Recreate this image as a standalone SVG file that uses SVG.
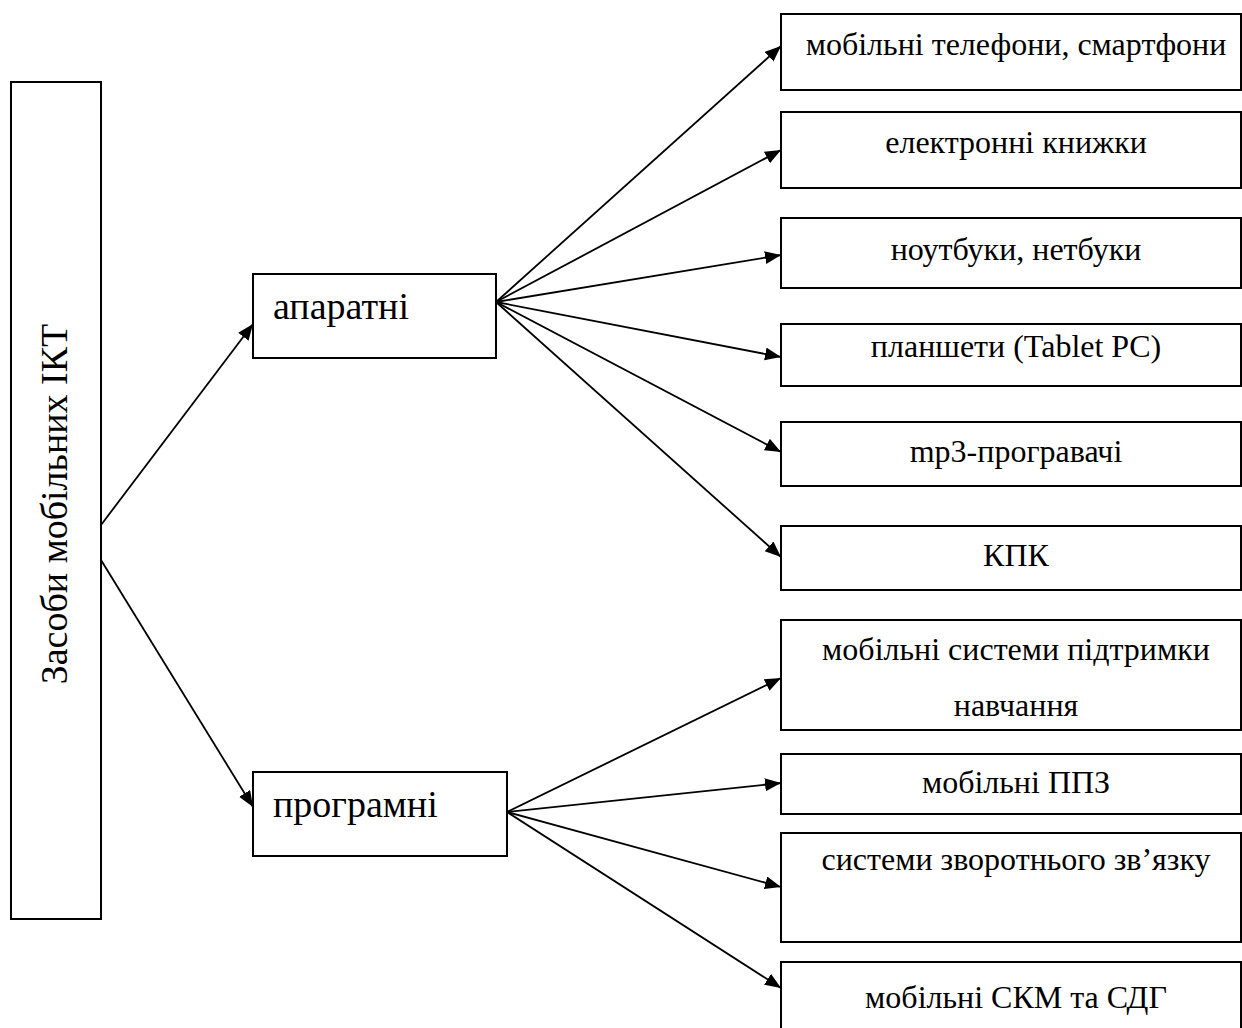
<svg xmlns="http://www.w3.org/2000/svg" width="1242" height="1028" viewBox="0 0 1242 1028">
<style>
.box{fill:#fff;stroke:#000;stroke-width:2}
.t{font-family:"Liberation Serif","Times New Roman",serif;fill:#000}
.r{font-size:32px;text-anchor:middle}
.l{font-size:38px}
.c{stroke:#000;stroke-width:1.8;fill:none;marker-end:url(#ah)}
</style>
<defs>
<marker id="ah" markerUnits="userSpaceOnUse" markerWidth="17" markerHeight="14" refX="16" refY="6.5" orient="auto">
<path d="M0,0 L16,6.5 L0,13 z" fill="#000"/>
</marker>
</defs>
<rect width="1242" height="1028" fill="#fff"/>
<g id="root">
<rect class="box" x="11" y="82" width="90" height="837"/>
<text class="t l" transform="translate(67,504) rotate(-90)" text-anchor="middle">Засоби мобільних ІКТ</text>
</g>
<g id="hw">
<rect class="box" x="253" y="274" width="243" height="84"/>
<text class="t l" x="273" y="319">апаратні</text>
</g>
<g id="sw">
<rect class="box" x="253" y="772" width="254" height="84"/>
<text class="t l" x="273" y="817">програмні</text>
</g>
<g id="n1"><rect class="box" x="781" y="14" width="460" height="76"/><text class="t r" x="1016" y="55">мобільні телефони, смартфони</text></g>
<g id="n2"><rect class="box" x="781" y="112" width="460" height="76"/><text class="t r" x="1016" y="153">електронні книжки</text></g>
<g id="n3"><rect class="box" x="781" y="218" width="460" height="70"/><text class="t r" x="1016" y="260">ноутбуки, нетбуки</text></g>
<g id="n4"><rect class="box" x="781" y="324" width="460" height="62"/><text class="t r" x="1016" y="357">планшети (Tablet PC)</text></g>
<g id="n5"><rect class="box" x="781" y="422" width="460" height="64"/><text class="t r" x="1016" y="462">mp3-програвачі</text></g>
<g id="n6"><rect class="box" x="781" y="526" width="460" height="64"/><text class="t r" x="1016" y="566">КПК</text></g>
<g id="n7"><rect class="box" x="781" y="620" width="460" height="110"/><text class="t r" x="1016" y="660">мобільні системи підтримки</text><text class="t r" x="1016" y="716">навчання</text></g>
<g id="n8"><rect class="box" x="781" y="754" width="460" height="60"/><text class="t r" x="1016" y="793">мобільні ППЗ</text></g>
<g id="n9"><rect class="box" x="781" y="833" width="460" height="109"/><text class="t r" x="1016" y="870">системи зворотнього зв’язку</text></g>
<g id="n10"><rect class="box" x="781" y="962" width="460" height="70"/><text class="t r" x="1016" y="1008">мобільні СКМ та СДГ</text></g>
<g id="connectors">
<line class="c" x1="101" y1="525" x2="253" y2="324"/>
<line class="c" x1="101" y1="560" x2="253" y2="807"/>
<line class="c" x1="496" y1="302" x2="781" y2="46"/>
<line class="c" x1="496" y1="302" x2="781" y2="150"/>
<line class="c" x1="496" y1="302" x2="781" y2="255"/>
<line class="c" x1="496" y1="302" x2="781" y2="357"/>
<line class="c" x1="496" y1="302" x2="781" y2="452"/>
<line class="c" x1="496" y1="302" x2="781" y2="557"/>
<line class="c" x1="507" y1="812" x2="781" y2="678"/>
<line class="c" x1="507" y1="812" x2="781" y2="783"/>
<line class="c" x1="507" y1="812" x2="781" y2="887"/>
<line class="c" x1="507" y1="812" x2="781" y2="988"/>
</g>
</svg>
